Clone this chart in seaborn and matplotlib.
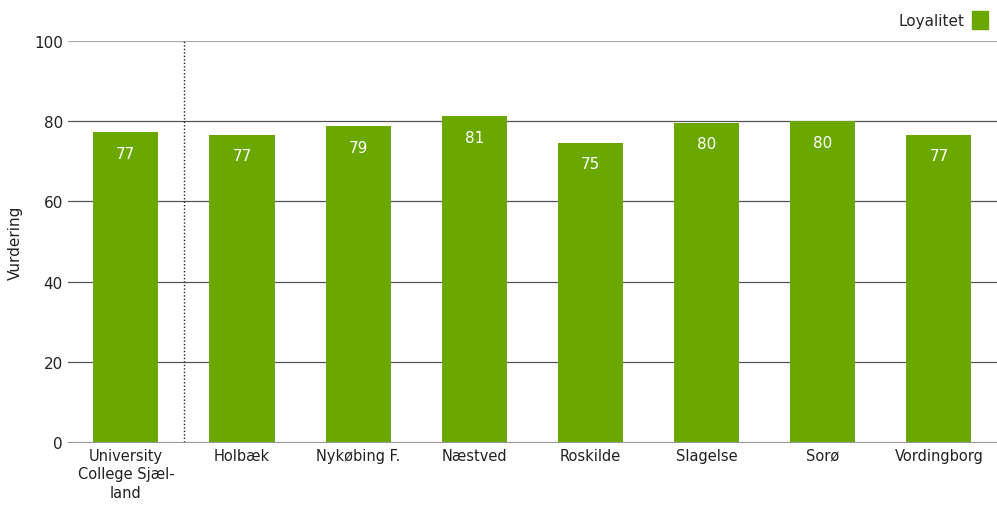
import matplotlib
matplotlib.use('Agg')
import matplotlib.pyplot as plt
import seaborn as sns
import pandas as pd

# data
categories = ['University\nCollege Sjæl-\nland', 'Holbæk', 'Nykøbing F.', 'Næstved',
              'Roskilde', 'Slagelse', 'Sorø', 'Vordingborg']
loyalitet = [77.3, 76.6, 78.8, 81.3, 74.6, 79.6, 80.0, 76.6]
y_ticks = [0, 20, 40, 60, 80, 100]

green = '#6aa800'

sns.set_style('white')
plt.rcParams['font.family'] = ['DejaVu Sans']

df = pd.DataFrame({'Enhed': categories, 'Loyalitet': loyalitet})

fig = plt.figure(figsize=(9.97, 5.06), dpi=100)
ax = fig.add_axes([0.068, 0.1245, 0.932, 0.7925])

sns.barplot(data=df, x='Enhed', y='Loyalitet', color=green, width=0.56,
            saturation=1, linewidth=0, ax=ax, zorder=3)

ax.set_ylim(0, 100)
ax.set_xlim(-0.5, len(categories) - 0.5)
ax.set_yticks(y_ticks)
for t in y_ticks[1:]:
    ax.axhline(t, color='#aaaaaa' if t == 100 else '#555555', lw=0.9, zorder=1)

# divider between the total and the locations
ax.axvline(0.5, color='#222222', lw=1, ls=(0, (1, 1.5)), zorder=2)

for i, v in enumerate(loyalitet):
    ax.text(i, v - 3.4, f'{v:.0f}', ha='center', va='top', color='white',
            fontsize=11, zorder=4)

for side in ['top', 'right', 'left']:
    ax.spines[side].set_visible(False)
ax.spines['bottom'].set_color('#999999')
ax.tick_params(axis='y', length=0, labelsize=11, colors='#222222')
ax.tick_params(axis='x', length=0, labelsize=10.5, colors='#222222', pad=4)
for lbl in ax.get_xticklabels():
    lbl.set_linespacing(1.3)
ax.set_xlabel('')
ax.set_ylabel('Vurdering', fontsize=11, color='#222222', labelpad=8)

handle = plt.Rectangle((0, 0), 1, 1, color=green)
fig.legend([handle], ['Loyalitet'], loc='upper right', bbox_to_anchor=(1.003, 1.0),
           frameon=False, markerfirst=False, fontsize=11, handlelength=1.0,
           handleheight=1.4, handletextpad=0.55, borderaxespad=0.4)

fig.savefig('out.png', dpi=100, facecolor='white')
